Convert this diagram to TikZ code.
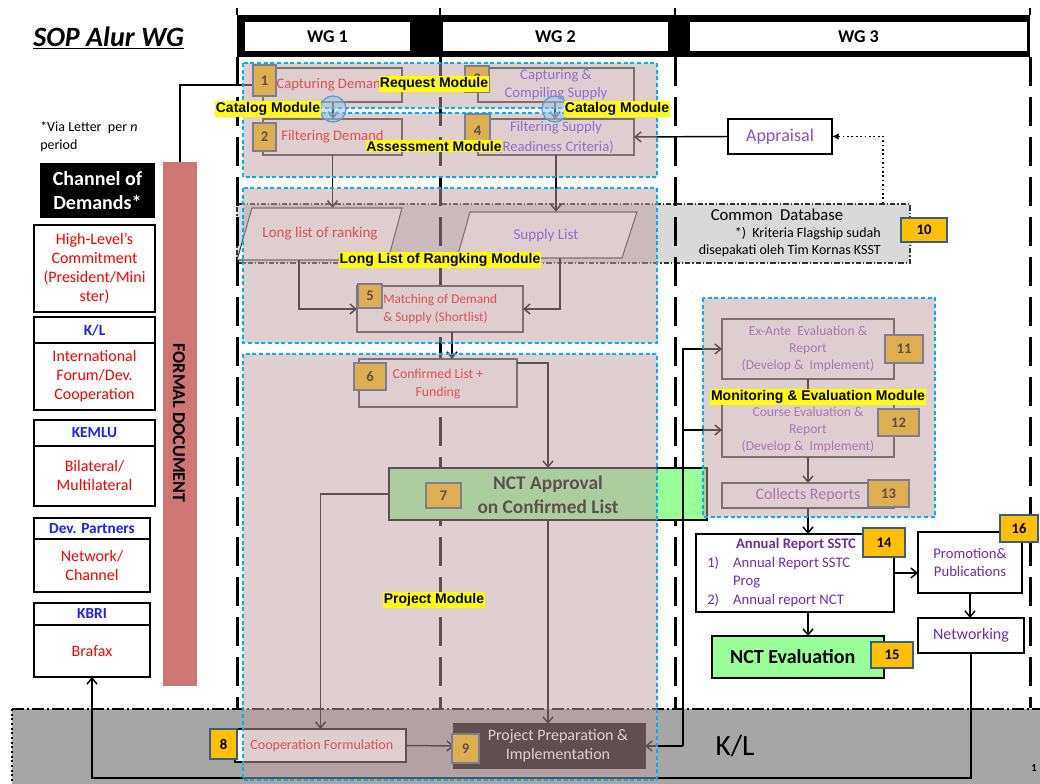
\documentclass[tikz,border=0pt]{standalone}
\usepackage{fontspec}
\setmainfont{Carlito}
\newfontfamily\tagfont{Liberation Sans}
\usetikzlibrary{arrows.meta,calc}

\definecolor{modfill}{RGB}{191,159,163}
\definecolor{modline}{RGB}{0,176,240}
\definecolor{badgeor}{RGB}{255,192,0}
\definecolor{badgeln}{RGB}{56,93,138}
\definecolor{ncgreen}{RGB}{153,255,153}
\definecolor{txtred}{RGB}{255,0,0}
\definecolor{txtblue}{RGB}{30,30,255}
\definecolor{txtpurp}{RGB}{112,48,160}
\definecolor{txtlilac}{RGB}{140,80,200}
\definecolor{txtsupply}{RGB}{102,60,255}
\definecolor{fdbar}{RGB}{205,118,114}
\definecolor{dbgray}{RGB}{217,217,217}
\definecolor{klgray}{RGB}{166,166,166}
\definecolor{tagyellow}{RGB}{255,255,0}
\definecolor{circfill}{RGB}{157,195,230}
\definecolor{circline}{RGB}{91,155,213}

\newcommand\fs[2]{\fontsize{#1pt}{#2pt}\selectfont}

\tikzset{
  R/.style n args={4}{at={({(#1+#3)/2},{(#2+#4)/2})},
    minimum width={(#3-#1)*0.75pt}, minimum height={(#4-#2)*0.75pt}},
  box/.style={draw=black, fill=white, line width=0.8pt, inner sep=0pt, outer sep=0pt, align=center},
  mbox/.style={box, draw=black!75},
  badge/.style={fill=badgeor, draw=badgeln, line width=1.8pt, inner sep=0pt, outer sep=0pt, font=\bfseries\fs{11}{12}},
  tag/.style={fill=tagyellow, inner xsep=0.5pt, inner ysep=1pt, font=\tagfont\bfseries\fs{10.5}{12}},
  module/.style={fill=modfill, fill opacity=0.5, draw=modline, line width=1.5pt, dash pattern=on 3pt off 2pt},
  lane/.style={line width=2.25pt, dash pattern=on 22pt off 8pt},
  conn/.style={line width=1.1pt, -{Straight Barb[length=4.5pt,width=7.5pt]}},
  link/.style={line width=1.1pt},
  lhead/.style={box, line width=1pt, font=\bfseries\fs{11.5}{13}, text=txtblue},
  lbody/.style={box, line width=1pt, font=\fs{12}{14.25}, text=txtred},
  txt/.style={inner sep=0pt, align=center},
}

\begin{document}
\begin{tikzpicture}[x=0.75pt,y=-0.75pt]
\useasboundingbox (0,0) rectangle (1040,784);

% ---------- K/L band along the bottom ----------
\fill[klgray] (12,709) rectangle (1040,784);
\draw[line width=2pt, dash pattern=on 9pt off 2pt on 2pt off 2pt] (12,709) -- (1040,709);
\draw[line width=1.5pt, dotted] (12,709) -- (12,784);
\node[font=\fs{22}{24}] (kl) at (735,746) {K/L};
\node[font=\bfseries\fs{8}{9}] (pg) at (1034,768) {1};

% ---------- common database strip ----------
\node[R={237}{204}{910}{263}, fill=dbgray, draw=black!80, line width=0.8pt,
      dash pattern=on 4pt off 1.5pt on 1pt off 1.5pt] (db) {};
\node[txt, font=\fs{12.5}{14}] (dbt) at (777,215) {Common\ \ Database};
\node[txt, anchor=east, align=right, font=\fs{10.5}{12.75}] (dbn) at (881,242)
  {*)\ \ Kriteria Flagship sudah\\disepakati oleh Tim Kornas KSST};
\node[badge, R={901}{218}{947}{242}] (n10) {10};

% ---------- swim lanes ----------
\foreach \x in {237,440,675,1030} {
  \draw[lane] (\x,57) -- (\x,708);
  \draw[line width=2pt] (\x,8) -- (\x,15);
}
\fill (237,15) rectangle (1030,57);
\node[R={245}{22}{410}{51}, fill=white, font=\bfseries\fs{13.5}{15}] (wg1) {WG 1};
\node[R={443}{22}{668}{51}, fill=white, font=\bfseries\fs{13.5}{15}] (wg2) {WG 2};
\node[R={690}{22}{1027}{51}, fill=white, font=\bfseries\fs{13.5}{15}] (wg3) {WG 3};

% ---------- title and channels of demand ----------
\node[anchor=west, inner sep=0pt, font=\bfseries\itshape\fs{21}{24}] (title) at (33,38) {\underline{SOP Alur WG}};
\node[txt, anchor=north west, align=left, font=\fs{10.5}{13.5}] (via) at (40,121) {*Via Letter\ \ per \textit{n}\\period};
\node[R={40}{163}{155}{218}, fill=black, text=white, inner sep=0pt, align=center,
      font=\bfseries\fs{15}{18.5}] (cod) {Channel of\\Demands*};
\node[lbody, R={34}{225}{155}{312}] (hl) {High-Level’s\\Commitment\\(President/Mini\\ster)};
\node[lhead, R={34}{317}{155}{343}] (klh) {K/L};
\node[lbody, R={34}{343}{155}{410}] (klb) {International\\Forum/Dev.\\Cooperation};
\node[lhead, R={34}{420}{155}{446}] (kmh) {KEMLU};
\node[lbody, R={34}{446}{155}{506}] (kmb) {Bilateral/\\Multilateral};
\node[lhead, R={34}{518}{150}{539}] (dph) {Dev. Partners};
\node[lbody, R={34}{539}{150}{592}] (dpb) {Network/\\Channel};
\node[lhead, R={34}{603}{150}{625}] (kbh) {KBRI};
\node[lbody, R={34}{625}{150}{677}] (kbb) {Brafax};

\node[R={163}{162}{197}{686}, fill=fdbar, inner sep=0pt] (fd) {};
\node[rotate=-90, inner sep=0pt, font=\bfseries\fs{13.5}{16}] (fdt) at (179,423) {FORMAL DOCUMENT};

% ---------- request / assessment ----------
\coordinate (k1) at (333,109);
\coordinate (k2) at (555,109);
\node[mbox, R={263}{68}{402}{102}, text=txtred, font=\fs{11}{13}] (b1) {Capturing Demand};
\node[mbox, R={263}{119}{402}{155}, text=txtred, font=\fs{11}{13}] (b2) {Filtering Demand};
\node[mbox, R={478}{68}{634}{102}, text=txtsupply, font=\fs{11}{13.5}] (b3) {Capturing \&\\Compiling Supply};
\node[mbox, R={478}{119}{634}{155}, text=txtsupply, font=\fs{11}{15}] (b4) {Filtering Supply\\(Readiness Criteria)};
\draw[link] (fd.north) |- (b1.west);
\draw[conn] (b1.south -| k1) -- (b2.north -| k1);
\draw[conn] (b3.south -| k2) -- (b4.north -| k2);
\node[badge, R={253}{65}{276}{96}] (n1) {1};
\node[badge, R={253}{123}{276}{151}] (n2) {2};
\node[badge, R={465}{66}{489}{92}] (n3) {3};
\node[badge, R={465}{114}{490}{147}] (n4) {4};

\node[box, R={728}{119}{832}{154}, text=txtlilac, font=\fs{13.5}{16}] (ap) {Appraisal};
\draw[conn] (ap.west) -- (b4.east);
\draw[dotted, line width=1.3pt, -{Latex[length=5pt,width=5pt]}] ($(db.north)+(309.5,0)$) |- (ap.east);

% ---------- long list / matching ----------
\draw[fill=white, draw=black!75, line width=0.8pt] (252,208) -- (402,208) -- (388,260) -- (237,260) -- cycle;
\draw[fill=white, draw=black!75, line width=0.8pt] (470,212) -- (637,212) -- (622,258) -- (457,258) -- cycle;
\node[txt, R={245}{208}{395}{260}, text=txtred, font=\fs{11.3}{13}] (LL) {Long list of ranking};
\node[txt, R={462}{212}{630}{258}, text=txtsupply, font=\fs{11.3}{13}] (SL) {Supply List};
\draw[conn] (b2.south) -- (b2.south |- LL.north);
\draw[conn] (b4.south) -- (b4.south |- SL.north);

\node[mbox, R={357}{286}{523}{332}] (b5) {};
\node[txt, anchor=west, align=left, text=txtred, font=\fs{10}{13.5}] (b5t) at (383,309) {Matching of Demand\\\& Supply (Shortlist)};
\draw[conn] ($(LL.south)+(-21,0)$) |- (b5.west);
\draw[conn] ($(SL.south)+(14,0)$) |- (b5.east);
\node[badge, R={358}{284}{382}{308}] (n5) {5};

% ---------- project ----------
\node[mbox, R={359}{359}{517}{407}] (b6) {};
\node[txt, text=txtred, font=\fs{10.3}{13}] (b6t) at (438,384) {Confirmed List +\\Funding};
\draw[conn] ([xshift=9pt]b5.south) -- ++(0,27);
\node[badge, R={354}{363}{386}{390}] (n6) {6};

\node[box, fill=ncgreen, R={389}{468}{707}{520}] (b7) {};
\node[txt, font=\bfseries\fs{14.5}{18}] (b7t) at (548,495) {NCT Approval\\on Confirmed List};
\draw[conn] ([yshift=-3pt]b6.north east) -| (b7.north);
\node[badge, R={426}{483}{461}{508}] (n7) {7};

\node[box, R={235}{729}{406}{762}, text=txtred, font=\fs{10.5}{12}] (b8) {\hspace*{2pt}Cooperation Formulation};
\node[box, fill=black, R={454}{724}{645}{768}] (b9) {};
\node[txt, text=white, font=\fs{12}{14.25}] (b9t) at (558,746) {Project Preparation \&\\Implementation};
\draw[conn] (b7.west) -| (b8.north);
\draw[conn] (b7.south) -- (b7.south |- b9.north);
\draw[conn] (b8.east) -- (b9.west);
\node[badge, R={210}{729}{237}{759}] (n8) {8};
\node[badge, R={452}{734}{479}{763}] (n9) {9};

% ---------- monitoring & evaluation ----------
\node[mbox, R={722}{319}{894}{379}, text=txtlilac, font=\fs{10.2}{12.75}] (ea) {Ex-Ante\ \ Evaluation \&\\Report\\(Develop \&\ \ Implement)};
\node[mbox, R={722}{403}{894}{457}, text=txtlilac, font=\fs{10.2}{12.75}] (ce) {Course Evaluation \&\\Report\\(Develop \&\ \ Implement)};
\node[mbox, R={722}{483}{894}{508}, text=txtlilac, font=\fs{12}{14}] (cr) {Collects Reports};
\coordinate (j) at (683,746);
\draw[conn] (j) -- (b9.east);
\draw[conn] (j) |- (ea.west);
\draw[conn] (j |- ce.west) -- (ce.west);
\draw[conn] (ea.south) -- (ce.north);
\draw[conn] (ce.south) -- (cr.north);
\node[badge, R={885}{335}{923}{363}] (n11) {11};
\node[badge, R={878}{409}{919}{436}] (n12) {12};
\node[badge, R={868}{480}{909}{507}] (n13) {13};

% ---------- reporting and follow-up ----------
\node[box, R={696}{534}{894}{612}] (ar) {};
\node[txt, text=txtpurp, font=\bfseries\fs{11}{13}] (art) at (796,545) {Annual Report SSTC};
\node[anchor=west, inner sep=0pt, text=txtpurp, font=\fs{11}{13.9}] (arl) at (707,582)
  {\begin{tabular}{@{}l@{\hspace{10.5pt}}l@{}}1)&Annual Report SSTC\\&Prog\\2)&Annual report NCT\end{tabular}};
\draw[conn] (cr.south) -- (cr.south |- ar.north);
\node[box, fill=ncgreen, R={712}{636}{884}{678}, font=\bfseries\fs{15}{18}] (ne) {NCT Evaluation\hspace*{8pt}};
\draw[conn] (ar.south -| cr.south) -- (ne.north -| cr.south);
\node[box, R={918}{532}{1022}{593}, text=txtpurp, font=\fs{11}{13.5}] (pp) {Promotion\&\\Publications};
\node[box, R={918}{618}{1024}{653}, text=txtpurp, font=\fs{12}{14}] (nw) {Networking};
\draw[conn] (ar.east) -- (ar.east -| pp.west);
\draw[conn] (pp.south) -- (pp.south |- nw.north);
\draw[conn] (nw.south) -- ++(0,125) -| (kbb.south);
\node[badge, R={863}{528}{905}{557}] (n14) {14};
\node[badge, R={871}{642}{913}{668}] (n15) {15};
\node[badge, R={1000}{515}{1038}{542}] (n16) {16};

% ---------- module areas (translucent) ----------
\path[module] (243,63) rectangle (657,108);
\path[module] (243,113) rectangle (657,177);
\path[module] (243,188) rectangle (657,343);
\path[module] (243,354) rectangle (657,780);
\path[module] (703,298) rectangle (935,517);

% ---------- flow markers and module names ----------
\node[circle, minimum size=19.5pt, inner sep=0pt, fill=circfill, fill opacity=0.5, draw=circline, line width=1pt] (c1) at (k1) {};
\node[circle, minimum size=19.5pt, inner sep=0pt, fill=circfill, fill opacity=0.5, draw=circline, line width=1pt] (c2) at (k2) {};
\node[tag] (t1) at (434,84) {Request Module};
\node[tag] (t2) at (268,109) {Catalog Module};
\node[tag] (t3) at (617,109) {Catalog Module};
\node[tag] (t4) at (434,146) {Assessment Module};
\node[tag] (t5) at (440,260) {Long List of Rangking Module};
\node[tag] (t6) at (434,600) {Project Module};
\node[tag] (t7) at (818,397) {Monitoring \& Evaluation Module};
\end{tikzpicture}
\end{document}
